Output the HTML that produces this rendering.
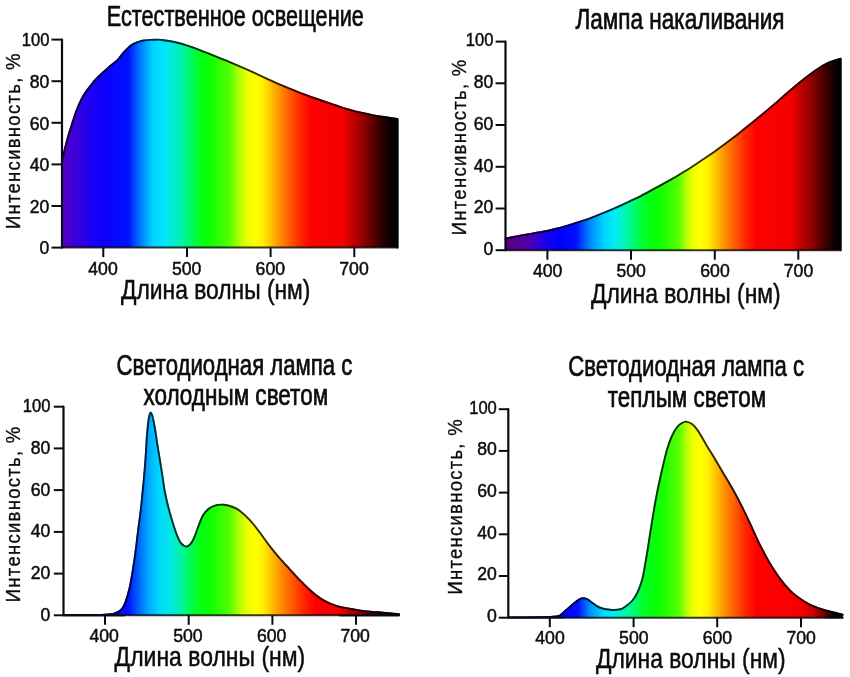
<!DOCTYPE html>
<html lang="ru">
<head>
<meta charset="utf-8">
<title>Спектры источников света</title>
<style>
html,body{margin:0;padding:0;background:#fff;}
body{width:850px;height:677px;overflow:hidden;}
svg{display:block;}
text{font-family:"Liberation Sans", "DejaVu Sans", sans-serif;fill:#0c0c0c;}
.tk{font-size:19px;stroke:#0c0c0c;stroke-width:0.5px;}
.xt{font-size:27.5px;stroke:#0c0c0c;stroke-width:0.5px;}
.tt{font-size:28.8px;stroke:#0c0c0c;stroke-width:0.7px;}
.yt{font-size:21px;stroke:#0c0c0c;stroke-width:0.35px;}
</style>
</head>
<body>
<svg width="850" height="677" viewBox="0 0 850 677">
<rect width="850" height="677" fill="#ffffff"/>
<linearGradient id="g1" gradientUnits="userSpaceOnUse" x1="62" y1="0" x2="398" y2="0">
<stop offset="0.0000" stop-color="#5600be"/>
<stop offset="0.0298" stop-color="#4200d2"/>
<stop offset="0.0595" stop-color="#2e00e6"/>
<stop offset="0.0893" stop-color="#1c00f4"/>
<stop offset="0.1250" stop-color="#0c00ff"/>
<stop offset="0.1964" stop-color="#0010ff"/>
<stop offset="0.2321" stop-color="#0078ff"/>
<stop offset="0.2708" stop-color="#00d4ff"/>
<stop offset="0.3036" stop-color="#00e4ff"/>
<stop offset="0.3274" stop-color="#00ecdc"/>
<stop offset="0.3571" stop-color="#00f2a8"/>
<stop offset="0.3869" stop-color="#00fa58"/>
<stop offset="0.4167" stop-color="#04ff14"/>
<stop offset="0.4464" stop-color="#14ff00"/>
<stop offset="0.4970" stop-color="#50ff00"/>
<stop offset="0.5327" stop-color="#c0ff00"/>
<stop offset="0.5565" stop-color="#f4ff00"/>
<stop offset="0.5774" stop-color="#ffff00"/>
<stop offset="0.5982" stop-color="#fff000"/>
<stop offset="0.6190" stop-color="#ffc800"/>
<stop offset="0.6518" stop-color="#ff8800"/>
<stop offset="0.7083" stop-color="#ff2800"/>
<stop offset="0.7440" stop-color="#ff0000"/>
<stop offset="0.8333" stop-color="#f40000"/>
<stop offset="0.8929" stop-color="#980000"/>
<stop offset="0.9405" stop-color="#400000"/>
<stop offset="0.9792" stop-color="#0a0000"/>
<stop offset="1.0000" stop-color="#000000"/>
</linearGradient>
<path d="M62.0 160.5 C62.5 158.6 63.7 153.5 64.8 149.2 C65.9 144.9 67.3 139.2 68.6 134.8 C69.9 130.4 71.2 126.6 72.4 122.8 C73.6 119.0 74.8 115.3 76.0 112.0 C77.2 108.7 78.4 105.8 79.6 103.2 C80.8 100.6 81.9 98.3 83.1 96.2 C84.3 94.1 85.2 92.7 86.6 90.7 C88.0 88.8 90.0 86.3 91.5 84.5 C93.0 82.7 93.5 81.8 95.3 79.9 C97.1 78.0 100.0 75.2 102.4 73.0 C104.8 70.8 107.3 68.5 109.8 66.4 C112.3 64.3 115.4 62.1 117.2 60.4 C119.0 58.7 119.6 57.5 120.8 56.0 C122.0 54.5 123.3 53.0 124.5 51.6 C125.7 50.2 127.0 49.0 128.2 47.9 C129.4 46.8 130.5 45.8 131.9 44.9 C133.3 44.0 134.9 43.2 136.4 42.6 C137.9 42.0 139.4 41.5 140.8 41.1 C142.2 40.7 143.5 40.6 145.0 40.4 C146.5 40.2 148.2 40.0 150.0 39.9 C151.8 39.8 154.2 39.7 156.0 39.7 C157.8 39.7 158.0 39.5 161.1 39.9 C164.2 40.3 169.9 41.0 174.3 42.0 C178.7 43.0 183.0 44.2 187.4 45.6 C191.8 47.0 196.1 48.6 200.5 50.3 C204.9 52.0 209.6 54.0 213.7 55.6 C217.8 57.2 221.4 58.8 225.0 60.2 C228.6 61.7 231.7 62.9 235.0 64.3 C238.3 65.7 241.7 67.2 245.0 68.7 C248.3 70.2 251.7 71.7 255.0 73.2 C258.3 74.7 260.8 75.9 265.0 77.8 C269.2 79.7 274.2 82.2 280.0 84.7 C285.8 87.2 293.3 90.2 300.0 92.8 C306.7 95.3 313.3 97.7 320.0 100.0 C326.7 102.3 335.0 105.2 340.0 106.8 C345.0 108.4 346.7 108.9 350.0 109.8 C353.3 110.7 356.7 111.6 360.0 112.4 C363.3 113.2 366.7 113.9 370.0 114.6 C373.3 115.3 376.7 115.9 380.0 116.4 C383.3 117.0 387.1 117.5 390.0 117.9 C392.9 118.3 396.2 118.8 397.5 119.0 L397.5 247.6 L62.0 247.6 Z" fill="url(#g1)"/>
<path d="M62.0 160.5 C62.5 158.6 63.7 153.5 64.8 149.2 C65.9 144.9 67.3 139.2 68.6 134.8 C69.9 130.4 71.2 126.6 72.4 122.8 C73.6 119.0 74.8 115.3 76.0 112.0 C77.2 108.7 78.4 105.8 79.6 103.2 C80.8 100.6 81.9 98.3 83.1 96.2 C84.3 94.1 85.2 92.7 86.6 90.7 C88.0 88.8 90.0 86.3 91.5 84.5 C93.0 82.7 93.5 81.8 95.3 79.9 C97.1 78.0 100.0 75.2 102.4 73.0 C104.8 70.8 107.3 68.5 109.8 66.4 C112.3 64.3 115.4 62.1 117.2 60.4 C119.0 58.7 119.6 57.5 120.8 56.0 C122.0 54.5 123.3 53.0 124.5 51.6 C125.7 50.2 127.0 49.0 128.2 47.9 C129.4 46.8 130.5 45.8 131.9 44.9 C133.3 44.0 134.9 43.2 136.4 42.6 C137.9 42.0 139.4 41.5 140.8 41.1 C142.2 40.7 143.5 40.6 145.0 40.4 C146.5 40.2 148.2 40.0 150.0 39.9 C151.8 39.8 154.2 39.7 156.0 39.7 C157.8 39.7 158.0 39.5 161.1 39.9 C164.2 40.3 169.9 41.0 174.3 42.0 C178.7 43.0 183.0 44.2 187.4 45.6 C191.8 47.0 196.1 48.6 200.5 50.3 C204.9 52.0 209.6 54.0 213.7 55.6 C217.8 57.2 221.4 58.8 225.0 60.2 C228.6 61.7 231.7 62.9 235.0 64.3 C238.3 65.7 241.7 67.2 245.0 68.7 C248.3 70.2 251.7 71.7 255.0 73.2 C258.3 74.7 260.8 75.9 265.0 77.8 C269.2 79.7 274.2 82.2 280.0 84.7 C285.8 87.2 293.3 90.2 300.0 92.8 C306.7 95.3 313.3 97.7 320.0 100.0 C326.7 102.3 335.0 105.2 340.0 106.8 C345.0 108.4 346.7 108.9 350.0 109.8 C353.3 110.7 356.7 111.6 360.0 112.4 C363.3 113.2 366.7 113.9 370.0 114.6 C373.3 115.3 376.7 115.9 380.0 116.4 C383.3 117.0 387.1 117.5 390.0 117.9 C392.9 118.3 396.2 118.8 397.5 119.0 L397.5 247.6" fill="none" stroke="url(#g1)" stroke-width="1.9" stroke-linejoin="round" stroke-linecap="round"/>
<path d="M62.0 160.5 C62.5 158.6 63.7 153.5 64.8 149.2 C65.9 144.9 67.3 139.2 68.6 134.8 C69.9 130.4 71.2 126.6 72.4 122.8 C73.6 119.0 74.8 115.3 76.0 112.0 C77.2 108.7 78.4 105.8 79.6 103.2 C80.8 100.6 81.9 98.3 83.1 96.2 C84.3 94.1 85.2 92.7 86.6 90.7 C88.0 88.8 90.0 86.3 91.5 84.5 C93.0 82.7 93.5 81.8 95.3 79.9 C97.1 78.0 100.0 75.2 102.4 73.0 C104.8 70.8 107.3 68.5 109.8 66.4 C112.3 64.3 115.4 62.1 117.2 60.4 C119.0 58.7 119.6 57.5 120.8 56.0 C122.0 54.5 123.3 53.0 124.5 51.6 C125.7 50.2 127.0 49.0 128.2 47.9 C129.4 46.8 130.5 45.8 131.9 44.9 C133.3 44.0 134.9 43.2 136.4 42.6 C137.9 42.0 139.4 41.5 140.8 41.1 C142.2 40.7 143.5 40.6 145.0 40.4 C146.5 40.2 148.2 40.0 150.0 39.9 C151.8 39.8 154.2 39.7 156.0 39.7 C157.8 39.7 158.0 39.5 161.1 39.9 C164.2 40.3 169.9 41.0 174.3 42.0 C178.7 43.0 183.0 44.2 187.4 45.6 C191.8 47.0 196.1 48.6 200.5 50.3 C204.9 52.0 209.6 54.0 213.7 55.6 C217.8 57.2 221.4 58.8 225.0 60.2 C228.6 61.7 231.7 62.9 235.0 64.3 C238.3 65.7 241.7 67.2 245.0 68.7 C248.3 70.2 251.7 71.7 255.0 73.2 C258.3 74.7 260.8 75.9 265.0 77.8 C269.2 79.7 274.2 82.2 280.0 84.7 C285.8 87.2 293.3 90.2 300.0 92.8 C306.7 95.3 313.3 97.7 320.0 100.0 C326.7 102.3 335.0 105.2 340.0 106.8 C345.0 108.4 346.7 108.9 350.0 109.8 C353.3 110.7 356.7 111.6 360.0 112.4 C363.3 113.2 366.7 113.9 370.0 114.6 C373.3 115.3 376.7 115.9 380.0 116.4 C383.3 117.0 387.1 117.5 390.0 117.9 C392.9 118.3 396.2 118.8 397.5 119.0 L397.5 247.6" fill="none" stroke="#000008" stroke-opacity="0.8" stroke-width="1.9" stroke-linejoin="round" stroke-linecap="round"/>
<path d="M62.0 39.6 V247.6 H62.1" fill="none" stroke="#0a0a14" stroke-width="2.2" stroke-linecap="round" stroke-linejoin="round"/>
<path d="M62.0 247.6 H398.0" fill="none" stroke="#000" stroke-opacity="0.78" stroke-width="2"/>
<path d="M51.5 247.6 H62.0" stroke="#0a0a14" stroke-width="2"/>
<text class="tk" x="39.6" y="254.3" textLength="9.8" lengthAdjust="spacingAndGlyphs">0</text>
<path d="M51.5 206.0 H62.0" stroke="#0a0a14" stroke-width="2"/>
<text class="tk" x="29.8" y="212.7" textLength="19.6" lengthAdjust="spacingAndGlyphs">20</text>
<path d="M51.5 164.4 H62.0" stroke="#0a0a14" stroke-width="2"/>
<text class="tk" x="29.8" y="171.1" textLength="19.6" lengthAdjust="spacingAndGlyphs">40</text>
<path d="M51.5 122.8 H62.0" stroke="#0a0a14" stroke-width="2"/>
<text class="tk" x="29.8" y="129.5" textLength="19.6" lengthAdjust="spacingAndGlyphs">60</text>
<path d="M51.5 81.2 H62.0" stroke="#0a0a14" stroke-width="2"/>
<text class="tk" x="29.8" y="87.9" textLength="19.6" lengthAdjust="spacingAndGlyphs">80</text>
<path d="M51.5 39.6 H62.0" stroke="#0a0a14" stroke-width="2"/>
<text class="tk" x="21.8" y="46.3" textLength="27.6" lengthAdjust="spacingAndGlyphs">100</text>
<path d="M103.3 247.6 V257.1" stroke="#0a0a14" stroke-width="2"/>
<text class="tk" x="88.3" y="274.8" textLength="29.4" lengthAdjust="spacingAndGlyphs">400</text>
<path d="M187.0 247.6 V257.1" stroke="#0a0a14" stroke-width="2"/>
<text class="tk" x="172.0" y="274.8" textLength="29.4" lengthAdjust="spacingAndGlyphs">500</text>
<path d="M270.6 247.6 V257.1" stroke="#0a0a14" stroke-width="2"/>
<text class="tk" x="255.6" y="274.8" textLength="29.4" lengthAdjust="spacingAndGlyphs">600</text>
<path d="M354.3 247.6 V257.1" stroke="#0a0a14" stroke-width="2"/>
<text class="tk" x="339.3" y="274.8" textLength="29.4" lengthAdjust="spacingAndGlyphs">700</text>
<text class="xt" x="121.0" y="298.7" textLength="189.4" lengthAdjust="spacingAndGlyphs">Длина волны (нм)</text>
<text class="tt" x="106.8" y="26.4" textLength="257.0" lengthAdjust="spacingAndGlyphs">Естественное освещение</text>
<text class="yt" transform="translate(19.5 229.1) rotate(-90) scale(0.88 1)" textLength="199.5" lengthAdjust="spacing">Интенсивность, %</text>
<linearGradient id="g2" gradientUnits="userSpaceOnUse" x1="505" y1="0" x2="840" y2="0">
<stop offset="0.0000" stop-color="#5a0082"/>
<stop offset="0.0687" stop-color="#5000a8"/>
<stop offset="0.1194" stop-color="#1c00f0"/>
<stop offset="0.1642" stop-color="#0000ff"/>
<stop offset="0.2119" stop-color="#0010ff"/>
<stop offset="0.2537" stop-color="#0088ff"/>
<stop offset="0.2955" stop-color="#00d4ff"/>
<stop offset="0.3284" stop-color="#00ecf4"/>
<stop offset="0.3672" stop-color="#00f8a0"/>
<stop offset="0.4149" stop-color="#00ff24"/>
<stop offset="0.4627" stop-color="#10ff00"/>
<stop offset="0.5164" stop-color="#50ff00"/>
<stop offset="0.5448" stop-color="#c0ff00"/>
<stop offset="0.5627" stop-color="#f4ff00"/>
<stop offset="0.5821" stop-color="#ffff00"/>
<stop offset="0.6060" stop-color="#fff000"/>
<stop offset="0.6269" stop-color="#ffc800"/>
<stop offset="0.6597" stop-color="#ff8800"/>
<stop offset="0.7164" stop-color="#ff2800"/>
<stop offset="0.7522" stop-color="#ff0000"/>
<stop offset="0.8507" stop-color="#f40000"/>
<stop offset="0.9104" stop-color="#980000"/>
<stop offset="0.9552" stop-color="#400000"/>
<stop offset="0.9881" stop-color="#0a0000"/>
<stop offset="1.0000" stop-color="#000000"/>
</linearGradient>
<path d="M505.5 238.6 C507.6 238.2 513.8 236.9 517.9 236.1 C522.0 235.3 526.2 234.7 530.3 234.0 C534.4 233.3 538.6 232.6 542.7 231.8 C546.8 231.0 551.0 230.0 555.1 229.0 C559.2 228.0 563.5 226.8 567.6 225.6 C571.8 224.4 575.9 223.1 580.0 221.7 C584.1 220.3 588.3 218.9 592.4 217.3 C596.5 215.8 600.7 214.1 604.8 212.4 C608.9 210.7 613.1 208.9 617.2 207.1 C621.3 205.3 625.5 203.4 629.6 201.4 C633.7 199.4 637.9 197.4 642.0 195.3 C646.1 193.2 650.3 190.9 654.4 188.7 C658.5 186.5 662.6 184.2 666.8 181.9 C670.9 179.6 675.1 177.2 679.3 174.7 C683.4 172.2 687.6 169.7 691.7 167.0 C695.8 164.3 700.0 161.6 704.1 158.8 C708.2 156.0 712.4 153.1 716.5 150.2 C720.6 147.2 724.8 144.2 728.9 141.1 C733.0 138.0 737.2 134.7 741.3 131.4 C745.4 128.1 749.6 124.9 753.7 121.5 C757.8 118.1 762.0 114.7 766.1 111.2 C770.2 107.7 774.4 104.2 778.5 100.6 C782.6 97.0 786.9 93.3 791.0 89.8 C795.1 86.3 799.3 82.8 803.4 79.5 C807.5 76.2 811.7 73.0 815.8 70.2 C819.9 67.4 824.1 64.8 828.2 62.9 C832.3 61.0 838.5 59.4 840.6 58.7 L840.6 250.2 L505.5 250.2 Z" fill="url(#g2)"/>
<path d="M505.5 238.6 C507.6 238.2 513.8 236.9 517.9 236.1 C522.0 235.3 526.2 234.7 530.3 234.0 C534.4 233.3 538.6 232.6 542.7 231.8 C546.8 231.0 551.0 230.0 555.1 229.0 C559.2 228.0 563.5 226.8 567.6 225.6 C571.8 224.4 575.9 223.1 580.0 221.7 C584.1 220.3 588.3 218.9 592.4 217.3 C596.5 215.8 600.7 214.1 604.8 212.4 C608.9 210.7 613.1 208.9 617.2 207.1 C621.3 205.3 625.5 203.4 629.6 201.4 C633.7 199.4 637.9 197.4 642.0 195.3 C646.1 193.2 650.3 190.9 654.4 188.7 C658.5 186.5 662.6 184.2 666.8 181.9 C670.9 179.6 675.1 177.2 679.3 174.7 C683.4 172.2 687.6 169.7 691.7 167.0 C695.8 164.3 700.0 161.6 704.1 158.8 C708.2 156.0 712.4 153.1 716.5 150.2 C720.6 147.2 724.8 144.2 728.9 141.1 C733.0 138.0 737.2 134.7 741.3 131.4 C745.4 128.1 749.6 124.9 753.7 121.5 C757.8 118.1 762.0 114.7 766.1 111.2 C770.2 107.7 774.4 104.2 778.5 100.6 C782.6 97.0 786.9 93.3 791.0 89.8 C795.1 86.3 799.3 82.8 803.4 79.5 C807.5 76.2 811.7 73.0 815.8 70.2 C819.9 67.4 824.1 64.8 828.2 62.9 C832.3 61.0 838.5 59.4 840.6 58.7 L840.6 250.2" fill="none" stroke="url(#g2)" stroke-width="1.9" stroke-linejoin="round" stroke-linecap="round"/>
<path d="M505.5 238.6 C507.6 238.2 513.8 236.9 517.9 236.1 C522.0 235.3 526.2 234.7 530.3 234.0 C534.4 233.3 538.6 232.6 542.7 231.8 C546.8 231.0 551.0 230.0 555.1 229.0 C559.2 228.0 563.5 226.8 567.6 225.6 C571.8 224.4 575.9 223.1 580.0 221.7 C584.1 220.3 588.3 218.9 592.4 217.3 C596.5 215.8 600.7 214.1 604.8 212.4 C608.9 210.7 613.1 208.9 617.2 207.1 C621.3 205.3 625.5 203.4 629.6 201.4 C633.7 199.4 637.9 197.4 642.0 195.3 C646.1 193.2 650.3 190.9 654.4 188.7 C658.5 186.5 662.6 184.2 666.8 181.9 C670.9 179.6 675.1 177.2 679.3 174.7 C683.4 172.2 687.6 169.7 691.7 167.0 C695.8 164.3 700.0 161.6 704.1 158.8 C708.2 156.0 712.4 153.1 716.5 150.2 C720.6 147.2 724.8 144.2 728.9 141.1 C733.0 138.0 737.2 134.7 741.3 131.4 C745.4 128.1 749.6 124.9 753.7 121.5 C757.8 118.1 762.0 114.7 766.1 111.2 C770.2 107.7 774.4 104.2 778.5 100.6 C782.6 97.0 786.9 93.3 791.0 89.8 C795.1 86.3 799.3 82.8 803.4 79.5 C807.5 76.2 811.7 73.0 815.8 70.2 C819.9 67.4 824.1 64.8 828.2 62.9 C832.3 61.0 838.5 59.4 840.6 58.7 L840.6 250.2" fill="none" stroke="#000008" stroke-opacity="0.8" stroke-width="1.9" stroke-linejoin="round" stroke-linecap="round"/>
<path d="M505.5 41.6 V250.2 H505.6" fill="none" stroke="#0a0a14" stroke-width="2.2" stroke-linecap="round" stroke-linejoin="round"/>
<path d="M505.5 250.2 H840.6" fill="none" stroke="#000" stroke-opacity="0.78" stroke-width="2"/>
<path d="M495.6 250.2 H505.5" stroke="#0a0a14" stroke-width="2"/>
<text class="tk" x="483.6" y="255.0" textLength="9.8" lengthAdjust="spacingAndGlyphs">0</text>
<path d="M495.6 208.5 H505.5" stroke="#0a0a14" stroke-width="2"/>
<text class="tk" x="473.8" y="213.3" textLength="19.6" lengthAdjust="spacingAndGlyphs">20</text>
<path d="M495.6 166.8 H505.5" stroke="#0a0a14" stroke-width="2"/>
<text class="tk" x="473.8" y="171.6" textLength="19.6" lengthAdjust="spacingAndGlyphs">40</text>
<path d="M495.6 125.0 H505.5" stroke="#0a0a14" stroke-width="2"/>
<text class="tk" x="473.8" y="129.8" textLength="19.6" lengthAdjust="spacingAndGlyphs">60</text>
<path d="M495.6 83.3 H505.5" stroke="#0a0a14" stroke-width="2"/>
<text class="tk" x="473.8" y="88.1" textLength="19.6" lengthAdjust="spacingAndGlyphs">80</text>
<path d="M495.6 41.6 H505.5" stroke="#0a0a14" stroke-width="2"/>
<text class="tk" x="465.8" y="46.4" textLength="27.6" lengthAdjust="spacingAndGlyphs">100</text>
<path d="M547.4 250.2 V259.7" stroke="#0a0a14" stroke-width="2"/>
<text class="tk" x="532.9" y="276.7" textLength="29.4" lengthAdjust="spacingAndGlyphs">400</text>
<path d="M631.0 250.2 V259.7" stroke="#0a0a14" stroke-width="2"/>
<text class="tk" x="616.5" y="276.7" textLength="29.4" lengthAdjust="spacingAndGlyphs">500</text>
<path d="M714.8 250.2 V259.7" stroke="#0a0a14" stroke-width="2"/>
<text class="tk" x="700.3" y="276.7" textLength="29.4" lengthAdjust="spacingAndGlyphs">600</text>
<path d="M798.3 250.2 V259.7" stroke="#0a0a14" stroke-width="2"/>
<text class="tk" x="783.8" y="276.7" textLength="29.4" lengthAdjust="spacingAndGlyphs">700</text>
<text class="xt" x="591.0" y="302.7" textLength="189.6" lengthAdjust="spacingAndGlyphs">Длина волны (нм)</text>
<text class="tt" x="575.5" y="28.8" textLength="209.0" lengthAdjust="spacingAndGlyphs">Лампа накаливания</text>
<text class="yt" transform="translate(465.5 235.3) rotate(-90) scale(0.88 1)" textLength="199.5" lengthAdjust="spacing">Интенсивность, %</text>
<linearGradient id="g3" gradientUnits="userSpaceOnUse" x1="62" y1="0" x2="398" y2="0">
<stop offset="0.0000" stop-color="#5a00b4"/>
<stop offset="0.0536" stop-color="#4400d8"/>
<stop offset="0.1250" stop-color="#0a00ff"/>
<stop offset="0.1964" stop-color="#0010ff"/>
<stop offset="0.2262" stop-color="#0060ff"/>
<stop offset="0.2574" stop-color="#00a8ff"/>
<stop offset="0.2887" stop-color="#00d6ff"/>
<stop offset="0.3214" stop-color="#00e8e8"/>
<stop offset="0.3512" stop-color="#00f2a8"/>
<stop offset="0.3810" stop-color="#00fa58"/>
<stop offset="0.4107" stop-color="#04ff14"/>
<stop offset="0.4464" stop-color="#14ff00"/>
<stop offset="0.4970" stop-color="#50ff00"/>
<stop offset="0.5327" stop-color="#c0ff00"/>
<stop offset="0.5565" stop-color="#f4ff00"/>
<stop offset="0.5774" stop-color="#ffff00"/>
<stop offset="0.5982" stop-color="#fff000"/>
<stop offset="0.6190" stop-color="#ffc800"/>
<stop offset="0.6548" stop-color="#ff8800"/>
<stop offset="0.7173" stop-color="#ff2800"/>
<stop offset="0.7530" stop-color="#ff0000"/>
<stop offset="0.8214" stop-color="#f40000"/>
<stop offset="0.8810" stop-color="#980000"/>
<stop offset="0.9286" stop-color="#400000"/>
<stop offset="0.9702" stop-color="#0a0000"/>
<stop offset="1.0000" stop-color="#000000"/>
</linearGradient>
<path d="M63.5 615.0 C67.9 615.0 83.2 615.0 90.0 615.0 C96.8 615.0 100.4 615.0 104.5 614.7 C108.6 614.5 112.0 614.3 114.8 613.5 C117.5 612.7 119.3 611.8 121.0 610.0 C122.7 608.2 123.8 606.2 125.2 602.8 C126.6 599.3 128.1 594.3 129.3 589.3 C130.5 584.3 131.4 579.0 132.4 572.8 C133.4 566.6 134.6 559.0 135.5 552.1 C136.4 545.2 137.1 538.3 138.0 531.4 C138.9 524.5 139.9 517.6 140.7 510.7 C141.5 503.8 142.3 494.9 142.8 490.0 C143.3 485.1 143.2 486.3 143.7 481.2 C144.1 476.1 145.0 466.5 145.5 459.1 C146.0 451.7 146.4 443.5 146.9 436.9 C147.4 430.2 148.1 423.2 148.7 419.2 C149.3 415.1 149.9 412.9 150.6 412.6 C151.3 412.4 152.1 414.9 152.8 417.7 C153.6 420.5 154.3 425.1 155.1 429.5 C155.8 433.9 156.5 438.9 157.3 444.3 C158.2 449.7 159.2 455.9 160.2 462.0 C161.2 468.1 162.5 476.5 163.2 481.2 C163.9 485.9 163.8 486.1 164.5 490.0 C165.2 493.9 166.4 499.6 167.7 504.8 C169.0 510.0 170.7 516.1 172.2 521.0 C173.7 525.9 175.1 530.6 176.6 534.3 C178.1 538.0 179.4 541.2 181.0 543.2 C182.6 545.2 184.6 546.5 186.2 546.6 C187.8 546.7 189.2 545.5 190.6 543.9 C191.9 542.3 193.0 540.4 194.3 537.3 C195.7 534.2 197.2 529.2 198.7 525.5 C200.2 521.8 201.5 517.9 203.2 515.1 C204.9 512.3 206.9 510.2 209.1 508.5 C211.3 506.8 214.0 505.7 216.5 505.1 C219.0 504.5 221.2 504.5 223.9 504.8 C226.6 505.1 230.0 506.0 232.7 507.0 C235.4 508.0 237.1 508.7 240.0 510.9 C242.9 513.1 246.8 516.8 250.1 520.4 C253.4 524.0 256.9 528.7 260.0 532.8 C263.1 536.9 266.1 541.4 269.0 545.1 C271.9 548.9 273.7 551.2 277.2 555.3 C280.7 559.4 286.2 565.4 290.0 569.6 C293.8 573.8 296.6 577.0 300.0 580.4 C303.4 583.8 306.8 587.2 310.1 590.2 C313.4 593.2 316.8 595.9 320.0 598.1 C323.2 600.3 326.6 602.0 329.6 603.4 C332.6 604.8 334.9 605.5 338.0 606.3 C341.1 607.1 344.7 607.8 348.0 608.4 C351.3 609.0 354.7 609.7 358.0 610.2 C361.3 610.7 364.3 611.0 367.6 611.4 C370.9 611.8 372.8 611.8 378.0 612.3 C383.2 612.8 395.5 613.9 399.0 614.2 L399.0 615.3 L63.5 615.3 Z" fill="url(#g3)"/>
<path d="M63.5 615.0 C67.9 615.0 83.2 615.0 90.0 615.0 C96.8 615.0 100.4 615.0 104.5 614.7 C108.6 614.5 112.0 614.3 114.8 613.5 C117.5 612.7 119.3 611.8 121.0 610.0 C122.7 608.2 123.8 606.2 125.2 602.8 C126.6 599.3 128.1 594.3 129.3 589.3 C130.5 584.3 131.4 579.0 132.4 572.8 C133.4 566.6 134.6 559.0 135.5 552.1 C136.4 545.2 137.1 538.3 138.0 531.4 C138.9 524.5 139.9 517.6 140.7 510.7 C141.5 503.8 142.3 494.9 142.8 490.0 C143.3 485.1 143.2 486.3 143.7 481.2 C144.1 476.1 145.0 466.5 145.5 459.1 C146.0 451.7 146.4 443.5 146.9 436.9 C147.4 430.2 148.1 423.2 148.7 419.2 C149.3 415.1 149.9 412.9 150.6 412.6 C151.3 412.4 152.1 414.9 152.8 417.7 C153.6 420.5 154.3 425.1 155.1 429.5 C155.8 433.9 156.5 438.9 157.3 444.3 C158.2 449.7 159.2 455.9 160.2 462.0 C161.2 468.1 162.5 476.5 163.2 481.2 C163.9 485.9 163.8 486.1 164.5 490.0 C165.2 493.9 166.4 499.6 167.7 504.8 C169.0 510.0 170.7 516.1 172.2 521.0 C173.7 525.9 175.1 530.6 176.6 534.3 C178.1 538.0 179.4 541.2 181.0 543.2 C182.6 545.2 184.6 546.5 186.2 546.6 C187.8 546.7 189.2 545.5 190.6 543.9 C191.9 542.3 193.0 540.4 194.3 537.3 C195.7 534.2 197.2 529.2 198.7 525.5 C200.2 521.8 201.5 517.9 203.2 515.1 C204.9 512.3 206.9 510.2 209.1 508.5 C211.3 506.8 214.0 505.7 216.5 505.1 C219.0 504.5 221.2 504.5 223.9 504.8 C226.6 505.1 230.0 506.0 232.7 507.0 C235.4 508.0 237.1 508.7 240.0 510.9 C242.9 513.1 246.8 516.8 250.1 520.4 C253.4 524.0 256.9 528.7 260.0 532.8 C263.1 536.9 266.1 541.4 269.0 545.1 C271.9 548.9 273.7 551.2 277.2 555.3 C280.7 559.4 286.2 565.4 290.0 569.6 C293.8 573.8 296.6 577.0 300.0 580.4 C303.4 583.8 306.8 587.2 310.1 590.2 C313.4 593.2 316.8 595.9 320.0 598.1 C323.2 600.3 326.6 602.0 329.6 603.4 C332.6 604.8 334.9 605.5 338.0 606.3 C341.1 607.1 344.7 607.8 348.0 608.4 C351.3 609.0 354.7 609.7 358.0 610.2 C361.3 610.7 364.3 611.0 367.6 611.4 C370.9 611.8 372.8 611.8 378.0 612.3 C383.2 612.8 395.5 613.9 399.0 614.2" fill="none" stroke="url(#g3)" stroke-width="1.9" stroke-linejoin="round" stroke-linecap="round"/>
<path d="M63.5 615.0 C67.9 615.0 83.2 615.0 90.0 615.0 C96.8 615.0 100.4 615.0 104.5 614.7 C108.6 614.5 112.0 614.3 114.8 613.5 C117.5 612.7 119.3 611.8 121.0 610.0 C122.7 608.2 123.8 606.2 125.2 602.8 C126.6 599.3 128.1 594.3 129.3 589.3 C130.5 584.3 131.4 579.0 132.4 572.8 C133.4 566.6 134.6 559.0 135.5 552.1 C136.4 545.2 137.1 538.3 138.0 531.4 C138.9 524.5 139.9 517.6 140.7 510.7 C141.5 503.8 142.3 494.9 142.8 490.0 C143.3 485.1 143.2 486.3 143.7 481.2 C144.1 476.1 145.0 466.5 145.5 459.1 C146.0 451.7 146.4 443.5 146.9 436.9 C147.4 430.2 148.1 423.2 148.7 419.2 C149.3 415.1 149.9 412.9 150.6 412.6 C151.3 412.4 152.1 414.9 152.8 417.7 C153.6 420.5 154.3 425.1 155.1 429.5 C155.8 433.9 156.5 438.9 157.3 444.3 C158.2 449.7 159.2 455.9 160.2 462.0 C161.2 468.1 162.5 476.5 163.2 481.2 C163.9 485.9 163.8 486.1 164.5 490.0 C165.2 493.9 166.4 499.6 167.7 504.8 C169.0 510.0 170.7 516.1 172.2 521.0 C173.7 525.9 175.1 530.6 176.6 534.3 C178.1 538.0 179.4 541.2 181.0 543.2 C182.6 545.2 184.6 546.5 186.2 546.6 C187.8 546.7 189.2 545.5 190.6 543.9 C191.9 542.3 193.0 540.4 194.3 537.3 C195.7 534.2 197.2 529.2 198.7 525.5 C200.2 521.8 201.5 517.9 203.2 515.1 C204.9 512.3 206.9 510.2 209.1 508.5 C211.3 506.8 214.0 505.7 216.5 505.1 C219.0 504.5 221.2 504.5 223.9 504.8 C226.6 505.1 230.0 506.0 232.7 507.0 C235.4 508.0 237.1 508.7 240.0 510.9 C242.9 513.1 246.8 516.8 250.1 520.4 C253.4 524.0 256.9 528.7 260.0 532.8 C263.1 536.9 266.1 541.4 269.0 545.1 C271.9 548.9 273.7 551.2 277.2 555.3 C280.7 559.4 286.2 565.4 290.0 569.6 C293.8 573.8 296.6 577.0 300.0 580.4 C303.4 583.8 306.8 587.2 310.1 590.2 C313.4 593.2 316.8 595.9 320.0 598.1 C323.2 600.3 326.6 602.0 329.6 603.4 C332.6 604.8 334.9 605.5 338.0 606.3 C341.1 607.1 344.7 607.8 348.0 608.4 C351.3 609.0 354.7 609.7 358.0 610.2 C361.3 610.7 364.3 611.0 367.6 611.4 C370.9 611.8 372.8 611.8 378.0 612.3 C383.2 612.8 395.5 613.9 399.0 614.2" fill="none" stroke="#000008" stroke-opacity="0.8" stroke-width="1.9" stroke-linejoin="round" stroke-linecap="round"/>
<path d="M63.5 406.7 V615.3 H124.0" fill="none" stroke="#0a0a14" stroke-width="2.2" stroke-linecap="round" stroke-linejoin="round"/>
<path d="M124.0 615.3 H340.0" fill="none" stroke="#000" stroke-opacity="0.78" stroke-width="2"/>
<path d="M340.0 615.3 H399.0" fill="none" stroke="#0a0a14" stroke-width="2.2" stroke-linecap="round"/>
<path d="M53.8 615.3 H63.5" stroke="#0a0a14" stroke-width="2"/>
<text class="tk" x="40.6" y="620.7" textLength="9.8" lengthAdjust="spacingAndGlyphs">0</text>
<path d="M53.8 573.6 H63.5" stroke="#0a0a14" stroke-width="2"/>
<text class="tk" x="30.8" y="579.0" textLength="19.6" lengthAdjust="spacingAndGlyphs">20</text>
<path d="M53.8 531.9 H63.5" stroke="#0a0a14" stroke-width="2"/>
<text class="tk" x="30.8" y="537.3" textLength="19.6" lengthAdjust="spacingAndGlyphs">40</text>
<path d="M53.8 490.1 H63.5" stroke="#0a0a14" stroke-width="2"/>
<text class="tk" x="30.8" y="495.5" textLength="19.6" lengthAdjust="spacingAndGlyphs">60</text>
<path d="M53.8 448.4 H63.5" stroke="#0a0a14" stroke-width="2"/>
<text class="tk" x="30.8" y="453.8" textLength="19.6" lengthAdjust="spacingAndGlyphs">80</text>
<path d="M53.8 406.7 H63.5" stroke="#0a0a14" stroke-width="2"/>
<text class="tk" x="22.8" y="412.1" textLength="27.6" lengthAdjust="spacingAndGlyphs">100</text>
<path d="M105.0 615.3 V624.8" stroke="#0a0a14" stroke-width="2"/>
<text class="tk" x="89.5" y="642.4" textLength="29.4" lengthAdjust="spacingAndGlyphs">400</text>
<path d="M188.7 615.3 V624.8" stroke="#0a0a14" stroke-width="2"/>
<text class="tk" x="173.2" y="642.4" textLength="29.4" lengthAdjust="spacingAndGlyphs">500</text>
<path d="M272.4 615.3 V624.8" stroke="#0a0a14" stroke-width="2"/>
<text class="tk" x="256.9" y="642.4" textLength="29.4" lengthAdjust="spacingAndGlyphs">600</text>
<path d="M356.0 615.3 V624.8" stroke="#0a0a14" stroke-width="2"/>
<text class="tk" x="340.5" y="642.4" textLength="29.4" lengthAdjust="spacingAndGlyphs">700</text>
<text class="xt" x="114.6" y="666.4" textLength="190.6" lengthAdjust="spacingAndGlyphs">Длина волны (нм)</text>
<text class="tt" x="116.6" y="374.6" textLength="235.8" lengthAdjust="spacingAndGlyphs">Светодиодная лампа с</text>
<text class="tt" x="143.4" y="405.2" textLength="184.8" lengthAdjust="spacingAndGlyphs">холодным светом</text>
<text class="yt" transform="translate(19.7 602.2) rotate(-90) scale(0.88 1)" textLength="199.4" lengthAdjust="spacing">Интенсивность, %</text>
<linearGradient id="g4" gradientUnits="userSpaceOnUse" x1="508" y1="0" x2="842" y2="0">
<stop offset="0.0000" stop-color="#5a0082"/>
<stop offset="0.0599" stop-color="#5000a8"/>
<stop offset="0.1198" stop-color="#1c00f0"/>
<stop offset="0.1617" stop-color="#0000ff"/>
<stop offset="0.2096" stop-color="#0010ff"/>
<stop offset="0.2455" stop-color="#0090ff"/>
<stop offset="0.2874" stop-color="#00dcff"/>
<stop offset="0.3174" stop-color="#00f0f0"/>
<stop offset="0.3593" stop-color="#00f8a0"/>
<stop offset="0.4072" stop-color="#00ff24"/>
<stop offset="0.4551" stop-color="#10ff00"/>
<stop offset="0.5090" stop-color="#50ff00"/>
<stop offset="0.5374" stop-color="#c0ff00"/>
<stop offset="0.5554" stop-color="#f4ff00"/>
<stop offset="0.5749" stop-color="#ffff00"/>
<stop offset="0.5988" stop-color="#fff000"/>
<stop offset="0.6198" stop-color="#ffc800"/>
<stop offset="0.6527" stop-color="#ff8800"/>
<stop offset="0.7096" stop-color="#ff2800"/>
<stop offset="0.7455" stop-color="#ff0000"/>
<stop offset="0.8743" stop-color="#f80000"/>
<stop offset="0.9102" stop-color="#d00000"/>
<stop offset="0.9401" stop-color="#800000"/>
<stop offset="0.9641" stop-color="#300000"/>
<stop offset="0.9880" stop-color="#0a0000"/>
<stop offset="1.0000" stop-color="#000000"/>
</linearGradient>
<path d="M508.3 617.4 C513.6 617.4 532.5 617.3 540.0 617.2 C547.5 617.1 549.9 617.0 553.0 616.8 C556.1 616.6 557.4 616.4 558.8 616.0 C560.2 615.6 560.4 615.1 561.5 614.2 C562.6 613.3 563.5 612.3 565.5 610.6 C567.5 608.9 571.1 605.7 573.4 603.8 C575.7 601.9 577.6 600.3 579.3 599.4 C580.9 598.5 581.9 598.2 583.3 598.2 C584.7 598.2 586.1 598.7 587.5 599.4 C588.9 600.1 589.5 600.9 591.5 602.2 C593.5 603.6 596.4 606.2 599.5 607.5 C602.6 608.8 606.5 609.5 610.0 609.8 C613.5 610.1 617.8 609.9 620.4 609.3 C623.0 608.7 623.6 607.8 625.5 606.4 C627.4 605.0 630.0 603.3 632.0 601.0 C634.0 598.7 635.7 596.1 637.4 592.6 C639.1 589.1 640.7 584.7 642.0 580.2 C643.3 575.7 644.1 570.4 645.0 565.4 C645.9 560.4 646.8 555.4 647.6 550.2 C648.4 545.0 649.2 539.5 650.0 534.4 C650.8 529.3 651.6 524.6 652.4 519.5 C653.2 514.4 654.1 509.0 655.0 504.0 C655.9 499.0 656.8 494.2 657.7 489.5 C658.7 484.8 659.7 480.2 660.7 475.7 C661.7 471.2 662.7 466.8 663.8 462.4 C664.9 458.0 665.9 453.4 667.2 449.1 C668.5 444.8 670.1 440.1 671.7 436.5 C673.3 432.9 675.4 429.5 677.0 427.3 C678.6 425.1 680.0 424.2 681.5 423.3 C683.0 422.4 684.2 421.5 686.0 421.6 C687.8 421.8 690.4 422.7 692.4 424.2 C694.4 425.7 695.3 426.9 697.7 430.4 C700.1 433.9 703.7 440.5 706.6 445.4 C709.5 450.3 712.5 454.9 715.4 459.8 C718.3 464.7 721.3 469.9 724.3 474.9 C727.3 479.9 730.2 484.7 733.2 490.0 C736.2 495.3 739.0 500.9 742.0 506.8 C745.0 512.7 748.0 519.3 750.9 525.4 C753.8 531.5 756.2 537.4 759.3 543.6 C762.4 549.8 766.1 557.0 769.5 562.8 C772.9 568.6 776.3 573.8 779.7 578.4 C783.1 583.0 786.5 586.9 789.9 590.3 C793.3 593.7 796.7 596.4 800.1 598.8 C803.5 601.2 806.3 603.0 810.3 604.9 C814.3 606.8 819.4 608.6 823.9 610.0 C828.4 611.4 834.4 612.6 837.5 613.4 C840.6 614.2 841.8 614.5 842.6 614.7 L842.6 617.7 L508.3 617.7 Z" fill="url(#g4)"/>
<path d="M508.3 617.4 C513.6 617.4 532.5 617.3 540.0 617.2 C547.5 617.1 549.9 617.0 553.0 616.8 C556.1 616.6 557.4 616.4 558.8 616.0 C560.2 615.6 560.4 615.1 561.5 614.2 C562.6 613.3 563.5 612.3 565.5 610.6 C567.5 608.9 571.1 605.7 573.4 603.8 C575.7 601.9 577.6 600.3 579.3 599.4 C580.9 598.5 581.9 598.2 583.3 598.2 C584.7 598.2 586.1 598.7 587.5 599.4 C588.9 600.1 589.5 600.9 591.5 602.2 C593.5 603.6 596.4 606.2 599.5 607.5 C602.6 608.8 606.5 609.5 610.0 609.8 C613.5 610.1 617.8 609.9 620.4 609.3 C623.0 608.7 623.6 607.8 625.5 606.4 C627.4 605.0 630.0 603.3 632.0 601.0 C634.0 598.7 635.7 596.1 637.4 592.6 C639.1 589.1 640.7 584.7 642.0 580.2 C643.3 575.7 644.1 570.4 645.0 565.4 C645.9 560.4 646.8 555.4 647.6 550.2 C648.4 545.0 649.2 539.5 650.0 534.4 C650.8 529.3 651.6 524.6 652.4 519.5 C653.2 514.4 654.1 509.0 655.0 504.0 C655.9 499.0 656.8 494.2 657.7 489.5 C658.7 484.8 659.7 480.2 660.7 475.7 C661.7 471.2 662.7 466.8 663.8 462.4 C664.9 458.0 665.9 453.4 667.2 449.1 C668.5 444.8 670.1 440.1 671.7 436.5 C673.3 432.9 675.4 429.5 677.0 427.3 C678.6 425.1 680.0 424.2 681.5 423.3 C683.0 422.4 684.2 421.5 686.0 421.6 C687.8 421.8 690.4 422.7 692.4 424.2 C694.4 425.7 695.3 426.9 697.7 430.4 C700.1 433.9 703.7 440.5 706.6 445.4 C709.5 450.3 712.5 454.9 715.4 459.8 C718.3 464.7 721.3 469.9 724.3 474.9 C727.3 479.9 730.2 484.7 733.2 490.0 C736.2 495.3 739.0 500.9 742.0 506.8 C745.0 512.7 748.0 519.3 750.9 525.4 C753.8 531.5 756.2 537.4 759.3 543.6 C762.4 549.8 766.1 557.0 769.5 562.8 C772.9 568.6 776.3 573.8 779.7 578.4 C783.1 583.0 786.5 586.9 789.9 590.3 C793.3 593.7 796.7 596.4 800.1 598.8 C803.5 601.2 806.3 603.0 810.3 604.9 C814.3 606.8 819.4 608.6 823.9 610.0 C828.4 611.4 834.4 612.6 837.5 613.4 C840.6 614.2 841.8 614.5 842.6 614.7" fill="none" stroke="url(#g4)" stroke-width="1.9" stroke-linejoin="round" stroke-linecap="round"/>
<path d="M508.3 617.4 C513.6 617.4 532.5 617.3 540.0 617.2 C547.5 617.1 549.9 617.0 553.0 616.8 C556.1 616.6 557.4 616.4 558.8 616.0 C560.2 615.6 560.4 615.1 561.5 614.2 C562.6 613.3 563.5 612.3 565.5 610.6 C567.5 608.9 571.1 605.7 573.4 603.8 C575.7 601.9 577.6 600.3 579.3 599.4 C580.9 598.5 581.9 598.2 583.3 598.2 C584.7 598.2 586.1 598.7 587.5 599.4 C588.9 600.1 589.5 600.9 591.5 602.2 C593.5 603.6 596.4 606.2 599.5 607.5 C602.6 608.8 606.5 609.5 610.0 609.8 C613.5 610.1 617.8 609.9 620.4 609.3 C623.0 608.7 623.6 607.8 625.5 606.4 C627.4 605.0 630.0 603.3 632.0 601.0 C634.0 598.7 635.7 596.1 637.4 592.6 C639.1 589.1 640.7 584.7 642.0 580.2 C643.3 575.7 644.1 570.4 645.0 565.4 C645.9 560.4 646.8 555.4 647.6 550.2 C648.4 545.0 649.2 539.5 650.0 534.4 C650.8 529.3 651.6 524.6 652.4 519.5 C653.2 514.4 654.1 509.0 655.0 504.0 C655.9 499.0 656.8 494.2 657.7 489.5 C658.7 484.8 659.7 480.2 660.7 475.7 C661.7 471.2 662.7 466.8 663.8 462.4 C664.9 458.0 665.9 453.4 667.2 449.1 C668.5 444.8 670.1 440.1 671.7 436.5 C673.3 432.9 675.4 429.5 677.0 427.3 C678.6 425.1 680.0 424.2 681.5 423.3 C683.0 422.4 684.2 421.5 686.0 421.6 C687.8 421.8 690.4 422.7 692.4 424.2 C694.4 425.7 695.3 426.9 697.7 430.4 C700.1 433.9 703.7 440.5 706.6 445.4 C709.5 450.3 712.5 454.9 715.4 459.8 C718.3 464.7 721.3 469.9 724.3 474.9 C727.3 479.9 730.2 484.7 733.2 490.0 C736.2 495.3 739.0 500.9 742.0 506.8 C745.0 512.7 748.0 519.3 750.9 525.4 C753.8 531.5 756.2 537.4 759.3 543.6 C762.4 549.8 766.1 557.0 769.5 562.8 C772.9 568.6 776.3 573.8 779.7 578.4 C783.1 583.0 786.5 586.9 789.9 590.3 C793.3 593.7 796.7 596.4 800.1 598.8 C803.5 601.2 806.3 603.0 810.3 604.9 C814.3 606.8 819.4 608.6 823.9 610.0 C828.4 611.4 834.4 612.6 837.5 613.4 C840.6 614.2 841.8 614.5 842.6 614.7" fill="none" stroke="#000008" stroke-opacity="0.8" stroke-width="1.9" stroke-linejoin="round" stroke-linecap="round"/>
<path d="M508.3 409.2 V617.7 H562.0" fill="none" stroke="#0a0a14" stroke-width="2.2" stroke-linecap="round" stroke-linejoin="round"/>
<path d="M562.0 617.7 H826.0" fill="none" stroke="#000" stroke-opacity="0.78" stroke-width="2"/>
<path d="M826.0 617.7 H842.6" fill="none" stroke="#0a0a14" stroke-width="2.2" stroke-linecap="round"/>
<path d="M498.8 617.7 H508.3" stroke="#0a0a14" stroke-width="2"/>
<text class="tk" x="487.0" y="622.1" textLength="9.8" lengthAdjust="spacingAndGlyphs">0</text>
<path d="M498.8 576.0 H508.3" stroke="#0a0a14" stroke-width="2"/>
<text class="tk" x="477.2" y="580.4" textLength="19.6" lengthAdjust="spacingAndGlyphs">20</text>
<path d="M498.8 534.3 H508.3" stroke="#0a0a14" stroke-width="2"/>
<text class="tk" x="477.2" y="538.7" textLength="19.6" lengthAdjust="spacingAndGlyphs">40</text>
<path d="M498.8 492.6 H508.3" stroke="#0a0a14" stroke-width="2"/>
<text class="tk" x="477.2" y="497.0" textLength="19.6" lengthAdjust="spacingAndGlyphs">60</text>
<path d="M498.8 450.9 H508.3" stroke="#0a0a14" stroke-width="2"/>
<text class="tk" x="477.2" y="455.3" textLength="19.6" lengthAdjust="spacingAndGlyphs">80</text>
<path d="M498.8 409.2 H508.3" stroke="#0a0a14" stroke-width="2"/>
<text class="tk" x="469.2" y="413.6" textLength="27.6" lengthAdjust="spacingAndGlyphs">100</text>
<path d="M549.8 617.7 V627.2" stroke="#0a0a14" stroke-width="2"/>
<text class="tk" x="535.3" y="644.4" textLength="29.4" lengthAdjust="spacingAndGlyphs">400</text>
<path d="M633.6 617.7 V627.2" stroke="#0a0a14" stroke-width="2"/>
<text class="tk" x="619.1" y="644.4" textLength="29.4" lengthAdjust="spacingAndGlyphs">500</text>
<path d="M717.2 617.7 V627.2" stroke="#0a0a14" stroke-width="2"/>
<text class="tk" x="702.7" y="644.4" textLength="29.4" lengthAdjust="spacingAndGlyphs">600</text>
<path d="M801.0 617.7 V627.2" stroke="#0a0a14" stroke-width="2"/>
<text class="tk" x="786.5" y="644.4" textLength="29.4" lengthAdjust="spacingAndGlyphs">700</text>
<text class="xt" x="596.0" y="667.9" textLength="189.6" lengthAdjust="spacingAndGlyphs">Длина волны (нм)</text>
<text class="tt" x="568.2" y="376.3" textLength="235.8" lengthAdjust="spacingAndGlyphs">Светодиодная лампа с</text>
<text class="tt" x="607.8" y="407.4" textLength="158.4" lengthAdjust="spacingAndGlyphs">теплым светом</text>
<text class="yt" transform="translate(461.7 594.6) rotate(-90) scale(0.88 1)" textLength="199.1" lengthAdjust="spacing">Интенсивность, %</text>
</svg>
</body>
</html>
